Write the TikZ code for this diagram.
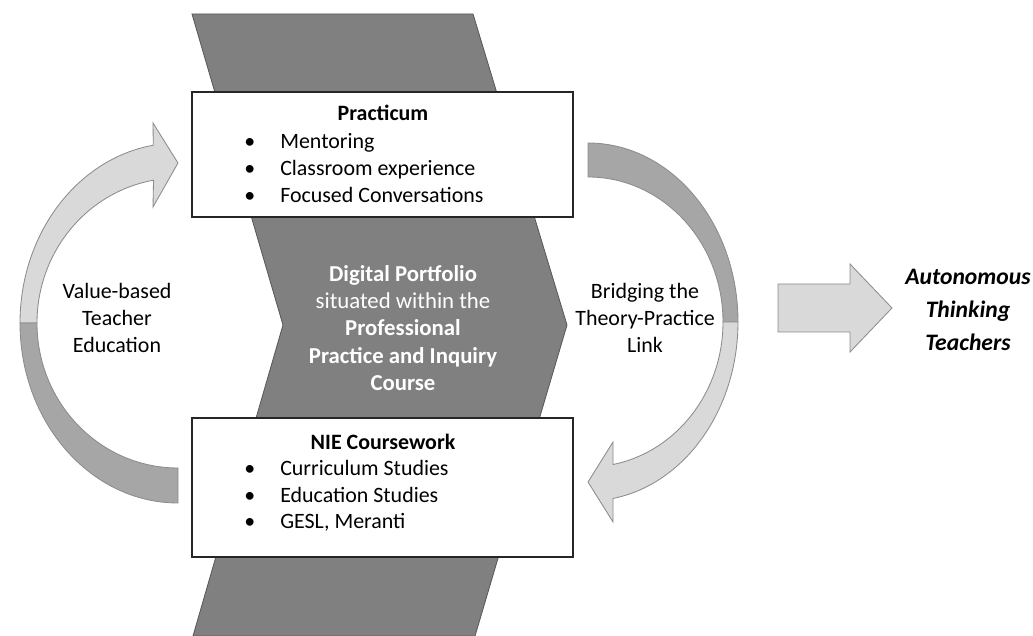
\documentclass[tikz,border=0pt]{standalone}
\usepackage{fontspec}
\setmainfont{Carlito}

\newcommand{\listdot}{\makebox[0.9cm][l]{\textbullet}}

\begin{document}
\begin{tikzpicture}
	[
		chevron/.style={fill=black!50, draw=black!65, line width=0.6pt},
		panel/.style={draw=black!85, fill=white, line width=1.2pt, minimum width=9.525cm, inner sep=0pt},
		light/.style={fill=black!15, draw=black!45, line width=0.6pt},
		shade/.style={fill=black!35, draw=black!45, line width=0.6pt},
		label/.style={align=center, inner sep=0pt, font=\fontsize{15.6}{19.3}\selectfont},
		items/.style={align=left, inner sep=0pt, font=\fontsize{15.6}{18.9}\selectfont}
	]

	\useasboundingbox (0.0, 0.0) rectangle (25.825, 15.9);

	\draw [chevron] (4.8, 15.55) -- (11.825, 15.55) -- (14.175, 7.775)
		-- (11.875, 0.0) -- (4.825, 0.0) -- (7.075, 7.775) -- cycle;

	\node (practicum)  at (9.5625, 12.0375) [panel, minimum height=3.125cm] {};
	\node (coursework) at (9.5625, 3.7125)  [panel, minimum height=3.475cm] {};

	\node (practtitle) at (9.575, 13.075) [label] {\textbf{Practicum}};
	\node (practlist)  at (6.1, 11.7) [items, anchor=west]
		{\listdot Mentoring \\ \listdot Classroom experience \\ \listdot Focused Conversations};

	\node (nietitle) at (9.575, 4.85) [label] {\textbf{NIE Coursework}};
	\node (nielist)  at (6.1, 3.5) [items, anchor=west]
		{\listdot Curriculum Studies \\ \listdot Education Studies \\ \listdot GESL, Meranti};

	\node (portfolio) at (10.075, 7.7) [label, text=white, font=\fontsize{16.2}{19.3}\selectfont]
		{\textbf{Digital Portfolio} \\ situated within the \\ \textbf{Professional} \\
		 \textbf{Practice and Inquiry} \\ \textbf{Course}};

	% left loop, head up at the practicum panel
	\draw [light] (4.45, 11.825) -- (3.825, 10.725) -- (3.838, 11.395)
		arc [start angle=100, end angle=180, x radius=3.525, y radius=3.625]
		-- (0.5, 7.825)
		arc [start angle=180, end angle=99, x radius=3.95, y radius=4.5]
		-- (3.825, 12.825) -- cycle;
	\draw [shade] (0.925, 7.825)
		arc [start angle=180, end angle=270, x radius=3.525, y radius=3.625]
		-- (4.45, 3.325)
		arc [start angle=270, end angle=180, x radius=3.95, y radius=4.5]
		-- cycle;

	% right loop, head down at the coursework panel
	\draw [shade] (14.7, 12.325)
		arc [start angle=90, end angle=0, x radius=3.75, y radius=4.475]
		-- (18.075, 7.85)
		arc [start angle=0, end angle=90, x radius=3.375, y radius=3.625]
		-- cycle;
	\draw [light] (18.075, 7.85)
		arc [start angle=0, end angle=-79.3, x radius=3.375, y radius=3.625]
		-- (15.325, 4.85) -- (14.7, 3.85) -- (15.325, 2.85) -- (15.325, 3.438)
		arc [start angle=-80.4, end angle=0, x radius=3.75, y radius=4.475]
		-- cycle;

	\node (values)   at (2.925, 7.95)  [label] {Value-based \\ Teacher \\ Education};
	\node (bridging) at (16.125, 7.95) [label] {Bridging the \\ Theory-Practice \\ Link};

	\draw [light] (19.45, 8.8) -- (21.25, 8.8) -- (21.25, 9.3) -- (22.3, 8.2)
		-- (21.25, 7.1) -- (21.25, 7.6) -- (19.45, 7.6) -- cycle;

	\node (teachers) at (24.2, 8.15)
		[align=center, inner sep=0pt, font=\fontsize{16.8}{23.4}\selectfont\bfseries\itshape]
		{Autonomous \\ Thinking \\ Teachers};
\end{tikzpicture}
\end{document}
